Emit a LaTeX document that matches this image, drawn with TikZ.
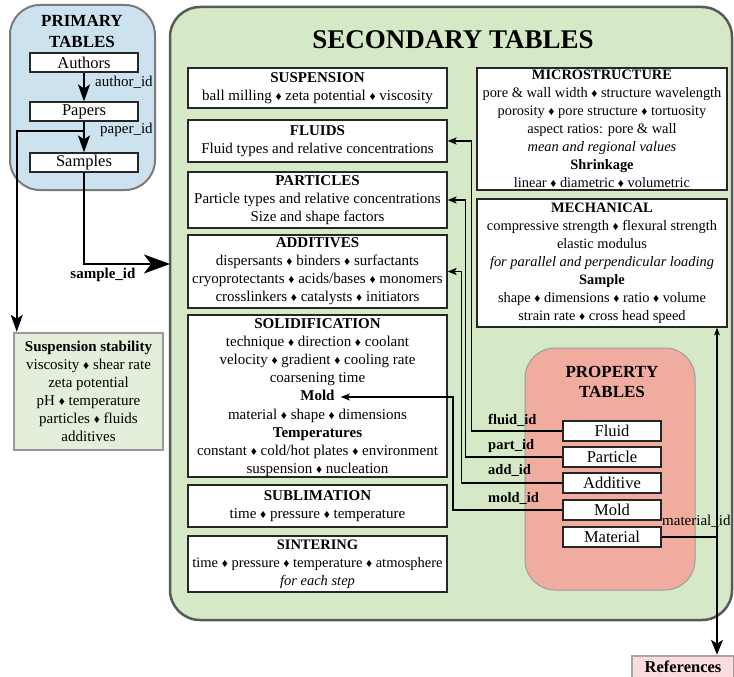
\documentclass[tikz,border=0pt]{standalone}
\usepackage{fontspec}
\setmainfont{Liberation Serif}
\usetikzlibrary{positioning}
\usetikzlibrary{arrows.meta}

\definecolor{primblue}{HTML}{CCE2EF}
\definecolor{secgreen}{HTML}{D5E9C6}
\definecolor{propred}{HTML}{F1ACA0}
\definecolor{stabgreen}{HTML}{E3EFDA}
\definecolor{refpink}{HTML}{FADCDC}
\definecolor{framegray}{HTML}{5A5A5A}

\newcommand{\dmd}{{\fontsize{12}{12}\selectfont ♦}}

\tikzset{
  body/.style={font=\fontsize{15}{18}\selectfont},
  tbl/.style={body, draw=black!85, line width=1.2pt, fill=white, align=center, inner sep=0pt, minimum width=259pt},
  tblr/.style={tbl, font=\fontsize{14.4}{18}\selectfont, minimum width=250pt},
  key/.style={draw=black!85, line width=1.2pt, fill=white, inner sep=0pt, minimum height=19pt, font=\fontsize{16.5}{18}\selectfont},
  group/.style={line width=2pt, rounded corners=30pt},
  grptitle/.style={font=\fontsize{17}{21}\selectfont\bfseries, align=center},
  idlbl/.style={body, inner sep=0pt},
  idbold/.style={idlbl, font=\fontsize{14.5}{17}\selectfont\bfseries},
  note/.style={body, draw=black!40, line width=2.5pt, align=center, inner sep=0pt},
  lnk/.style={line width=1.3pt, -{Stealth[length=9pt,width=7pt,inset=2pt]}},
  keyarrow/.style={line width=1.5pt, -{Stealth[length=17pt,width=12pt,inset=4pt]}},
}

\begin{document}
\begin{tikzpicture}[x=1pt,y=-1pt]
\useasboundingbox (0,0) rectangle (734,677);

% primary tables
\node[group, draw=framegray!80, fill=primblue, minimum width=145pt, minimum height=185pt] (prim) at (82.5,97.5) {};
\node[grptitle] (primtitle) at (82,31) {PRIMARY\\TABLES};
\node[key, minimum width=108pt] (authors) at (84,62.5) {Authors};
\node[key, minimum width=108pt] (papers) at (84,111.5) {Papers};
\node[key, minimum width=108pt] (samples) at (84,162.5) {Samples};
\draw[keyarrow] (authors) -- (papers);
\draw[keyarrow] (papers) -- (samples);
\node[idlbl, anchor=west] (authorid) at (95,82) {author\_id};
\node[idlbl, anchor=west] (paperid) at (100,130) {paper\_id};

% suspension stability
\node[note, fill=stabgreen, minimum width=149pt, minimum height=117pt] (stab) at (88.5,391.5) {\textbf{Suspension stability}\\viscosity \dmd{} shear rate\\zeta potential\\pH \dmd{} temperature\\particles \dmd{} fluids\\additives};
\coordinate (split) at (84,131);
\draw[keyarrow] (split) -| ([xshift=4pt]stab.north west);

% secondary tables
\node[group, draw=framegray, line width=2.5pt, fill=secgreen, minimum width=562pt, minimum height=613pt] (sec) at (451,313.5) {};
\node[font=\fontsize{27}{30}\selectfont\bfseries] (sectitle) at (453,40) {SECONDARY TABLES};
\coordinate (secin) at (170,264);
\draw[line width=2pt, -{Stealth[length=26pt,width=19pt,inset=7pt]}] (samples) |- (secin);
\node[idbold, font=\fontsize{15}{18}\selectfont\bfseries] (sampleid) at (103,275) {sample\_id};

\node[tbl, minimum height=40pt] (susp) at (317.5,88) {\textbf{SUSPENSION}\\ball milling \dmd{} zeta potential \dmd{} viscosity};
\node[tbl, minimum height=42pt] (fluids) at (317.5,141) {\textbf{FLUIDS}\\Fluid types and relative concentrations};
\node[tbl, minimum height=56pt] (particles) at (317.5,200) {\textbf{PARTICLES}\\Particle types and relative concentrations\\Size and shape factors};
\node[tbl, minimum height=73pt] (additives) at (317.5,271.5) {\textbf{ADDITIVES}\\dispersants \dmd{} binders \dmd{} surfactants\\cryoprotectants \dmd{} acids/bases \dmd{} monomers\\crosslinkers \dmd{} catalysts \dmd{} initiators};
\node[tbl, minimum height=162pt] (solid) at (317.5,396) {};
\node[idlbl, align=center, below=1pt of solid.north] (soltop) {\strut\textbf{SOLIDIFICATION}\\technique \dmd{} direction \dmd{} coolant\\velocity \dmd{} gradient \dmd{} cooling rate\\coarsening time\strut};
\node[idlbl, below=0pt of soltop] (moldtxt) {\strut\textbf{Mold}};
\node[idlbl, align=center, below=0pt of moldtxt] (solbot) {\strut material \dmd{} shape \dmd{} dimensions\\\textbf{Temperatures}\\constant \dmd{} cold/hot plates \dmd{} environment\\suspension \dmd{} nucleation};
\node[tbl, minimum height=42pt] (subl) at (317.5,506) {\textbf{SUBLIMATION}\\time \dmd{} pressure \dmd{} temperature};
\node[tbl, font=\fontsize{14.5}{18}\selectfont, minimum height=56pt] (sint) at (317.5,564) {\textbf{SINTERING}\\time \dmd{} pressure \dmd{} temperature \dmd{} atmosphere\\\textit{for each step}};

\node[tblr, minimum height=122pt] (micro) at (602,129) {\textbf{MICROSTRUCTURE}\\pore \& wall width \dmd{} structure wavelength\\porosity \dmd{} pore structure \dmd{} tortuosity\\aspect ratios: pore \& wall\\\textit{mean and regional values}\\\textbf{Shrinkage}\\linear \dmd{} diametric \dmd{} volumetric};
\node[tblr, minimum height=128pt] (mech) at (602,263) {\textbf{MECHANICAL}\\compressive strength \dmd{} flexural strength\\elastic modulus\\\textit{for parallel and perpendicular loading}\\\textbf{Sample}\\shape \dmd{} dimensions \dmd{} ratio \dmd{} volume\\strain rate \dmd{} cross head speed};

% property tables
\node[group, draw=framegray!60, line width=1pt, fill=propred, minimum width=170pt, minimum height=242pt] (prop) at (610,469) {};
\node[grptitle, font=\fontsize{17}{20}\selectfont\bfseries] (proptitle) at (612,382) {PROPERTY\\TABLES};
\node[key, minimum width=98pt, minimum height=20pt] (fluid) at (612,431) {Fluid};
\node[key, minimum width=98pt, minimum height=20pt] (particle) at (612,457) {Particle};
\node[key, minimum width=98pt, minimum height=20pt] (additive) at (612,483) {Additive};
\node[key, minimum width=98pt, minimum height=20pt] (mold) at (612,510) {Mold};
\node[key, minimum width=98pt, minimum height=20pt] (material) at (612,537) {Material};

% id links
\draw[lnk] (fluid) -| ([xshift=24pt]fluids.east) -- (fluids);
\draw[lnk] (particle) -| ([xshift=18pt]particles.east) -- (particles);
\draw[lnk] (additive) -| ([xshift=14pt]additives.east) -- (additives);
\coordinate (moldlane) at (453,510);
\draw[lnk] (mold) -| (moldlane |- moldtxt) -- ([xshift=6pt]moldtxt.east);
\node[idbold, anchor=west] (fluidid) at (488,420) {fluid\_id};
\node[idbold, anchor=west] (partid) at (488,446) {part\_id};
\node[idbold, anchor=west] (addid) at (488,470) {add\_id};
\node[idbold, anchor=west] (moldid) at (488,498) {mold\_id};

% references
\coordinate (matlane) at (717,537);
\draw[line width=1.3pt] (material) -- (matlane);
\node[idlbl, anchor=west] (materialid) at (662,521) {material\_id};
\node[note, draw=black!35, fill=refpink, minimum width=102pt, minimum height=22pt, font=\fontsize{16.5}{18}\selectfont\bfseries] (refs) at (683,667) {References};
\draw[line width=1.3pt, {Stealth[length=8pt,width=6pt]}-{Stealth[length=15pt,width=12pt,inset=4pt]}] (mech.south -| matlane) -- (refs.north -| matlane);
\end{tikzpicture}
\end{document}
